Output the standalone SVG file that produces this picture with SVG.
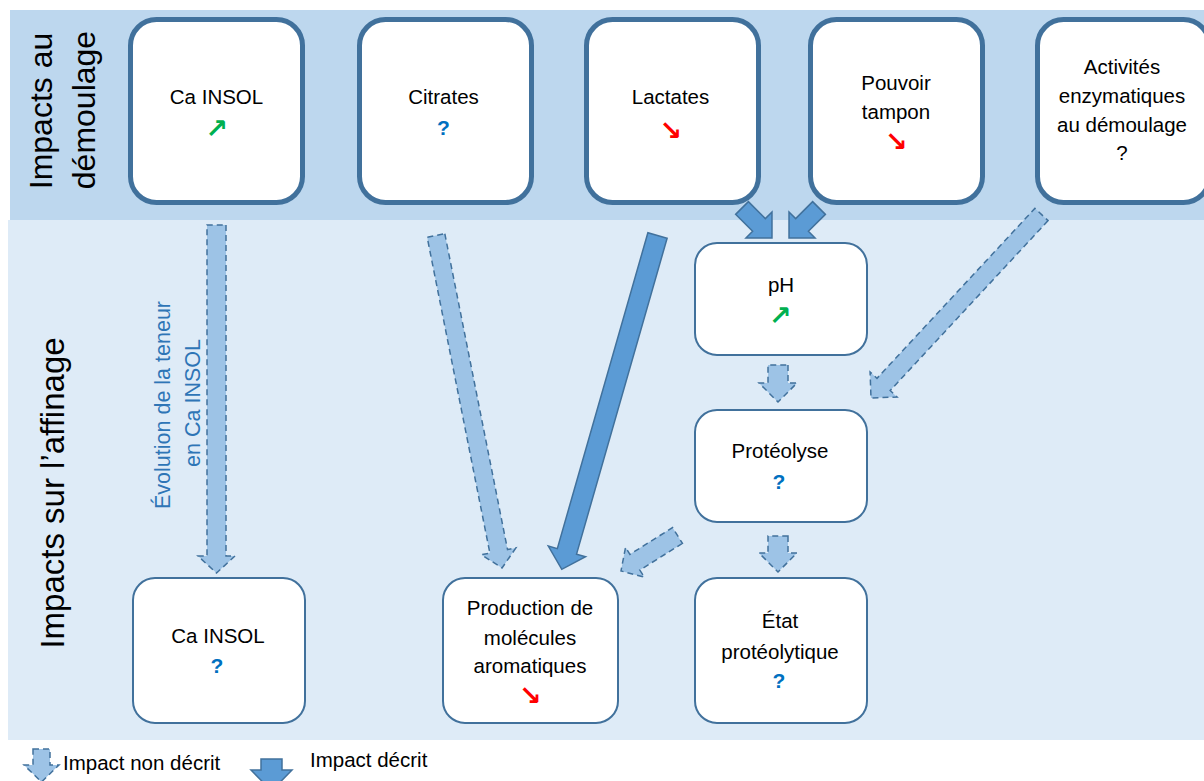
<svg xmlns="http://www.w3.org/2000/svg" width="1204" height="781" viewBox="0 0 1204 781">
<style>
.band1{fill:#BDD7EE}
.band2{fill:#DEEBF7}
.topnode{fill:#FFFFFF;stroke:#41719C;stroke-width:5}
.node{fill:#FFFFFF;stroke:#41719C;stroke-width:2}
.t{font-family:"Liberation Sans",Arial,sans-serif;font-size:20.5px;fill:#000;text-anchor:middle}
.q{font-family:"Liberation Sans",Arial,sans-serif;font-size:21px;font-weight:bold;fill:#0070C0;text-anchor:middle}
.up{font-family:"DejaVu Sans",sans-serif;font-size:27px;font-weight:bold;fill:#00B050;text-anchor:middle}
.down{font-family:"DejaVu Sans",sans-serif;font-size:27px;font-weight:bold;fill:#FF0000;text-anchor:middle}
.big{font-family:"Liberation Sans",Arial,sans-serif;font-size:32px;fill:#000;text-anchor:middle}
.evo{font-family:"Liberation Sans",Arial,sans-serif;font-size:21.5px;fill:#2E75B6;text-anchor:middle}
.leg{font-family:"Liberation Sans",Arial,sans-serif;font-size:20.5px;fill:#000}
.solid{fill:#5B9BD5;stroke:#41719C;stroke-width:1.5;stroke-linejoin:miter}
.dash{fill:#9DC3E6;stroke:#41719C;stroke-width:1.5;stroke-dasharray:6 4}
</style>
<rect class="band1" x="10" y="10" width="1194" height="210"/>
<rect class="band2" x="8" y="220" width="1196" height="520"/>
<text class="big" transform="translate(52,111) rotate(-90)">Impacts au</text>
<text class="big" transform="translate(95,110) rotate(-90)">démoulage</text>
<text class="big" style="font-size:33px" transform="translate(64,493) rotate(-90)">Impacts sur l’affinage</text>
<text class="evo" transform="translate(170,405) rotate(-90)">Évolution de la teneur</text>
<text class="evo" transform="translate(200,403) rotate(-90)">en Ca INSOL</text>
<g id="connectors">
<polygon class="solid" transform="translate(742,208) rotate(45)" points="0,-9 24,-9 24,-18.4 42.4,0 24,18.4 24,9 0,9"/>
<polygon class="solid" transform="translate(819,208) rotate(135)" points="0,-9 24,-9 24,-18.4 42.4,0 24,18.4 24,9 0,9"/>
<polygon class="solid" transform="translate(657.5,235.5) rotate(106)" points="0,-10 328.6,-10 328.6,-19.4 347.3,0 328.6,19.4 328.6,10 0,10"/>
<polygon class="dash" transform="translate(216.5,225) rotate(90)" points="0,-9.5 331,-9.5 331,-18.5 348,0 331,18.5 331,9.5 0,9.5"/>
<polygon class="dash" transform="translate(436,235.5) rotate(78.77)" points="0,-9 322,-9 322,-17.5 339,0 322,17.5 322,9 0,9"/>
<polygon class="dash" transform="translate(1041.5,214.5) rotate(132.9)" points="0,-9 232,-9 232,-18.4 250.5,0 232,18.4 232,9 0,9"/>
<polygon class="dash" transform="translate(778,365) rotate(90)" points="0,-10 18,-10 18,-19 37,0 18,19 18,10 0,10"/>
<polygon class="dash" transform="translate(778,536) rotate(90)" points="0,-10 17,-10 17,-19 36,0 17,19 17,10 0,10"/>
<polygon class="dash" transform="translate(677.5,535.5) rotate(147.9)" points="0,-9.3 50.3,-9.3 50.3,-17.6 66.7,0 50.3,17.6 50.3,9.3 0,9.3"/>
</g>
<g id="n-ca-insol-top">
<rect class="topnode" x="130.5" y="19.5" width="172" height="183" rx="26"/>
<text class="t" x="216.5" y="104">Ca INSOL</text>
<text class="up" x="216.5" y="137.5">↗</text>
</g>
<g id="n-citrates">
<rect class="topnode" x="359.5" y="19.5" width="172" height="183" rx="26"/>
<text class="t" x="443.5" y="104">Citrates</text>
<text class="q" x="443.5" y="135">?</text>
</g>
<g id="n-lactates">
<rect class="topnode" x="586.5" y="19.5" width="172" height="183" rx="26"/>
<text class="t" x="670.5" y="104">Lactates</text>
<text class="down" x="670.5" y="140">↘</text>
</g>
<g id="n-pouvoir">
<rect class="topnode" x="810.5" y="19.5" width="172" height="183" rx="26"/>
<text class="t" x="896" y="90">Pouvoir</text>
<text class="t" x="896" y="119">tampon</text>
<text class="down" x="896" y="150.5">↘</text>
</g>
<g id="n-activites">
<rect class="topnode" x="1037.5" y="19.5" width="172" height="183" rx="26"/>
<text class="t" x="1122" y="74">Activités</text>
<text class="t" x="1122" y="103">enzymatiques</text>
<text class="t" x="1122" y="132">au démoulage</text>
<text class="t" x="1122" y="160">?</text>
</g>
<g id="n-ph">
<rect class="node" x="695" y="243" width="172" height="112" rx="22"/>
<text class="t" x="781" y="292">pH</text>
<text class="up" x="780" y="324.5">↗</text>
</g>
<g id="n-proteolyse">
<rect class="node" x="695" y="410" width="172" height="112" rx="22"/>
<text class="t" x="780" y="458">Protéolyse</text>
<text class="q" x="779" y="489">?</text>
</g>
<g id="n-etat">
<rect class="node" x="695" y="578" width="172" height="145" rx="22"/>
<text class="t" x="780" y="628">État</text>
<text class="t" x="780" y="659">protéolytique</text>
<text class="q" x="779" y="688">?</text>
</g>
<g id="n-ca-insol-bottom">
<rect class="node" x="133" y="578" width="172" height="145" rx="22"/>
<text class="t" x="218" y="643">Ca INSOL</text>
<text class="q" x="217" y="673">?</text>
</g>
<g id="n-production">
<rect class="node" x="443" y="578" width="175" height="145" rx="22"/>
<text class="t" x="530" y="615">Production de</text>
<text class="t" x="530" y="645">molécules</text>
<text class="t" x="530" y="673">aromatiques</text>
<text class="down" x="530" y="704.5">↘</text>
</g>
<g id="legend">
<polygon class="dash" points="33,749 50,749 50,765 59,765 41.5,782 24,765 33,765"/>
<text class="leg" x="63" y="770">Impact non décrit</text>
<polygon class="solid" points="261,759 282,759 282,770 292,770 271.5,791 251,770 261,770"/>
<text class="leg" x="310" y="767">Impact décrit</text>
</g>
</svg>
